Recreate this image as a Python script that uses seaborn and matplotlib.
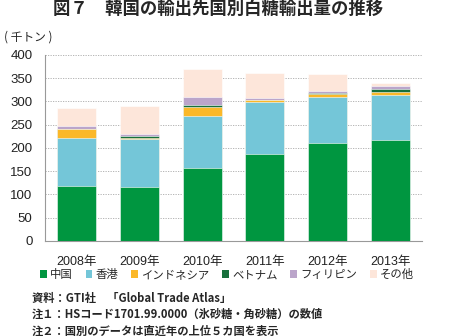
import numpy as np
import pandas as pd
import matplotlib
matplotlib.use("Agg")
import matplotlib.pyplot as plt
from matplotlib.patches import Patch
import seaborn as sns

years = ["2008年", "2009年", "2010年", "2011年", "2012年", "2013年"]
series = ["中国", "香港", "インドネシア", "ベトナム", "フィリピン", "その他"]
china = [119, 115, 157, 187, 210, 217]
hongkong = [102, 103, 112, 112, 99, 97]
indonesia = [19, 4, 19, 4, 6, 7]
vietnam = [0.5, 3, 4, 0.5, 3.5, 5]
philippines = [6, 4, 17, 4, 3, 6]
others = [39, 61, 61, 53, 37, 7]
colors = ["#009640", "#74C6D8", "#FBB829", "#17703C", "#BBA5CA", "#FDE6DA"]

sns.set_theme(style="white")
plt.rcParams['font.family'] = ['Liberation Sans', 'Noto Sans CJK JP']

values = [china, hongkong, indonesia, vietnam, philippines, others]
cum = np.cumsum(np.array(values), axis=0)

fig = plt.figure(figsize=(4.5, 3.36), dpi=100)
ax = fig.add_axes([0.1, 0.283, 0.838, 0.554])

for i in range(len(series) - 1, -1, -1):
    df = pd.DataFrame({"year": years, "value": cum[i]})
    sns.barplot(data=df, x="year", y="value", color=colors[i], width=0.62,
                edgecolor="white", linewidth=0.4, saturation=1, ax=ax, zorder=3)

ax.set_xlim(-0.5, 5.5)
ax.set_ylim(0, 400)
ax.set_yticks(np.arange(0, 401, 50))
ax.set_xlabel("")
ax.set_ylabel("")
for y in np.arange(50, 401, 50):
    ax.axhline(y, color="#AAAAAA", linestyle=(0, (1.5, 1.5)), linewidth=0.6, zorder=1)

for s in ["top", "right"]:
    ax.spines[s].set_visible(False)
for s in ["left", "bottom"]:
    ax.spines[s].set_color("#999999")
    ax.spines[s].set_linewidth(0.8)

ax.set_xticks(np.arange(-0.5, 6, 1), minor=True)
ax.tick_params(axis="x", which="major", length=0, labelsize=9, pad=11, colors="#222222")
ax.tick_params(axis="x", which="minor", length=4, color="#999999", direction="out", width=0.8)
ax.tick_params(axis="y", length=3, color="#999999", labelsize=9.5, pad=6, colors="#222222")

fig.text(0.485, 0.972, "図７　韓国の輸出先国別白糖輸出量の推移", ha="center", va="center",
         fontsize=12.5, fontweight="bold", family=['Noto Sans CJK JP'])
fig.text(0.01, 0.89, "( 千トン )", ha="left", va="center", fontsize=8.5,
         family=['Noto Sans CJK JP'])

handles = [Patch(facecolor=c, edgecolor="none") for c in colors]
fig.legend(handles, series, loc="center", bbox_to_anchor=(0.505, 0.183), ncol=6,
           frameon=False, handlelength=0.6, handleheight=0.6,
           handletextpad=0.3, columnspacing=1.1, borderaxespad=0,
           prop={'family': ['Noto Sans CJK JP'], 'size': 8.2})

notes = ["資料：GTI社　「Global Trade Atlas」",
         "注１：HSコード1701.99.0000（氷砂糖・角砂糖）の数値",
         "注２：国別のデータは直近年の上位５カ国を表示"]
for k, t in enumerate(notes):
    fig.text(0.07, 0.113 - k * 0.049, t, ha="left", va="center", fontsize=8.1,
             fontweight="semibold", family=['Noto Sans CJK JP'])

fig.savefig("out.png", dpi=100)
